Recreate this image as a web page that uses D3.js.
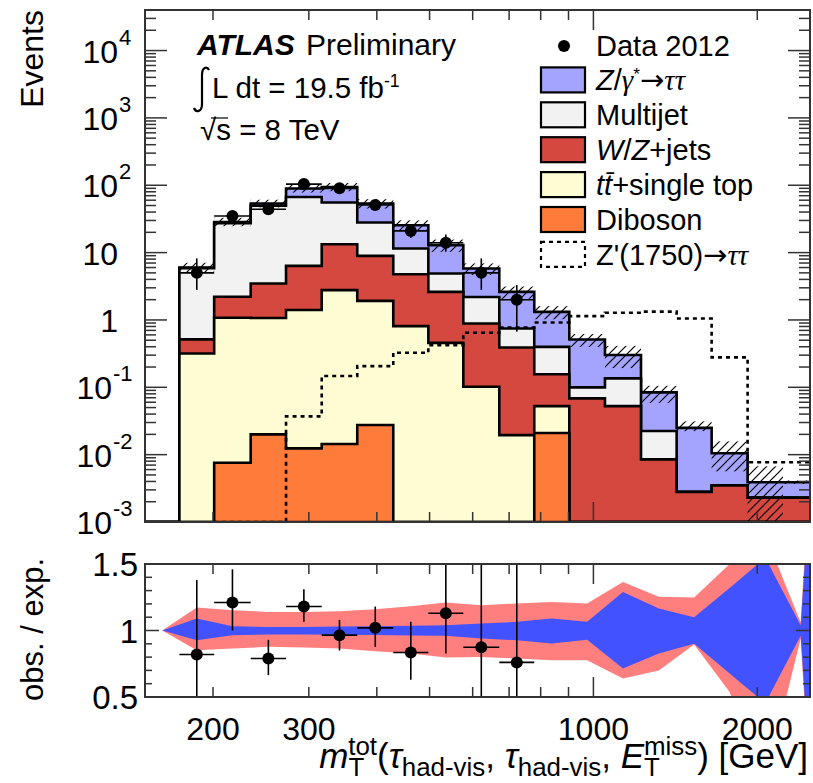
<!doctype html>
<html lang="en">
<head>
	<meta charset="UTF-8">
	<title>mT tot tau tau</title>
	<script src="https://d3js.org/d3.v7.min.js"></script>
	<style>
		body { margin: 0; background: #fff; }
		svg text { font-family: 'Liberation Sans', Arial, Helvetica, sans-serif; fill: #000; }
	</style>
</head>
<body>
	<div id="chart"></div>
	<script>
		/* ---------------------------------- Data ---------------------------------- */
		// bin edges in GeV (first bin is empty, the last one lies past the axis end)
		var bin_edges = [150, 173.5, 201, 234.6, 272.4, 316.8, 368.2, 428.8, 497.4, 576.7, 671.5,
			778.6, 903, 1050, 1223, 1422, 1649, 1920, 2230, 2590, 3010]

		// background yields per bin (events)
		var diboson = [0, 0, 0.0076, 0.020, 0.0124, 0.0144, 0.0275, 0, 0, 0, 0, 0.021, 0, 0, 0, 0, 0, 0, 0, 0]
		var ttbar = [0, 0.318, 1.07, 1.05, 1.39, 2.76, 1.89, 0.81, 0.457, 0.102, 0.0195, 0.0315, 0, 0, 0, 0, 0, 0, 0, 0]
		var wz_jets = [0, 0.196, 1.13, 2.41, 4.95, 10.5, 7.02, 3.97, 2.15, 0.785, 0.371, 0.104, 0.0684, 0.0526,
			0.0085, 0.0028, 0.0035, 0.0023, 0.0023, 0.0023]
		var multijet = [0, 5.36, 25.1, 46.1, 60.7, 42.1, 19.1, 6.7, 2.29, 1.31, 0.357, 0.242, 0.0313, 0.083,
			0.0139, 0, 0, 0, 0, 0]
		var ztautau = [0, 0.14, 1.2, 3.9, 22.3, 39.0, 25.5, 14.0, 8.0, 3.61, 1.86, 0.92, 0.414, 0.166,
			0.0616, 0.0222, 0.0070, 0.0016, 0.0016, 0.0016]

		// Z'(1750) signal, null = not drawn
		var zprime = [null, null, 0.0005, 0.0005, 0.037, 0.147, 0.206, 0.325, 0.423, 0.644, 0.774, 0.918,
			1.14, 1.28, 1.33, 1.05, 0.278, 0.0077, 0.0077, 0.0077]

		// data 2012, bins 1..10
		var data_bin = [1, 2, 3, 4, 5, 6, 7, 8, 9, 10]
		var data_val = [5, 35, 44, 104, 90, 51, 21, 14, 5, 2]
		var data_lo = [2.8, 29, 37.5, 94, 80.5, 44, 16.5, 10.3, 2.8, 0.67]
		var data_hi = [8.2, 41, 51, 114, 99.5, 58, 26, 18.5, 8.2, 3.3]

		// ratio obs/exp
		var ratio_val = [0.82, 1.21, 0.79, 1.18, 0.965, 1.02, 0.835, 1.13, 0.874, 0.76]
		var ratio_lo = [0.26, 1.0, 0.665, 1.065, 0.85, 0.877, 0.63, 0.827, 0.3, 0.3]
		var ratio_hi = [1.38, 1.46, 0.93, 1.31, 1.08, 1.18, 1.065, 1.6, 1.6, 1.6]

		// relative uncertainty bands (stat = blue, total = red)
		var band_tot_lo = [1, 0.852, 0.865, 0.877, 0.872, 0.865, 0.844, 0.827, 0.797, 0.80, 0.79, 0.777,
			0.777, 0.64, 0.70, 0.895, 0.538, -0.14, 0.94, -3.5]
		var band_tot_hi = [1, 1.173, 1.153, 1.14, 1.14, 1.145, 1.16, 1.183, 1.21, 1.19, 1.203, 1.215,
			1.203, 1.365, 1.253, 1.248, 1.5, 1.72, 1.06, 5.5]
		var band_stat_lo = [1, 0.927, 0.965, 0.97, 0.97, 0.968, 0.966, 0.962, 0.96, 0.94, 0.927, 0.902,
			0.93, 0.714, 0.827, 0.90, 0.677, 0.453, 0.96, -3]
		var band_stat_hi = [1, 1.09, 1.032, 1.027, 1.027, 1.03, 1.032, 1.035, 1.04, 1.053, 1.065, 1.09,
			1.065, 1.29, 1.165, 1.10, 1.32, 1.547, 1.04, 5]

		// ticks
		var x_ticks = [200, 300, 400, 500, 600, 700, 800, 900, 1000, 2000]
		var x_tick_labels = ['200', '300', '1000', '2000']
		var y_decades = [1e-3, 1e-2, 1e-1, 1, 10, 100, 1e3, 1e4]
		var y_tick_labels = [['10', '-3'], ['10', '-2'], ['10', '-1'], ['1', ''], ['10', ''], ['10', '2'], ['10', '3'], ['10', '4']]
		var r_ticks = [0.5, 1, 1.5]
		var r_tick_labels = ['0.5', '1', '1.5']

		/* ---------------------------------- Setup --------------------------------- */
		var keys = ['diboson', 'ttbar', 'wz_jets', 'multijet', 'ztautau']
		var colors = {
			ztautau: '#a4a4ff', multijet: '#f2f2f2', wz_jets: '#d4483f',
			ttbar: '#fefcd2', diboson: '#ff7b39'
		}
		var band_red = '#ff7f7f', band_blue = '#4352ff'

		var svg = d3.select('#chart').append('svg')
			.attr('width', 813)
			.attr('height', 783)

		var x = d3.scaleLog().domain([150, 2500]).range([145, 810])
		var y = d3.scaleLog().domain([1e-3, 4e4]).range([522, 10]).clamp(true)
		var yr = d3.scaleLinear().domain([0.5, 1.5]).range([697, 564])

		function yv(v) { return y(Math.max(v, 1e-5)) }
		function center(i) { return Math.sqrt(bin_edges[i] * bin_edges[i + 1]) }

		var defs = svg.append('defs')
		defs.append('clipPath').attr('id', 'clip_top').append('rect')
			.attr('x', 145).attr('y', 10).attr('width', 665).attr('height', 512)
		defs.append('clipPath').attr('id', 'clip_ratio').append('rect')
			.attr('x', 145).attr('y', 564).attr('width', 665).attr('height', 133)
		var pat = defs.append('pattern').attr('id', 'hatch')
			.attr('patternUnits', 'userSpaceOnUse').attr('width', 9).attr('height', 9)
		pat.append('path').attr('d', 'M0,9 L9,0 M-2,2 L2,-2 M7,11 L11,7')
			.attr('stroke', '#000').attr('stroke-width', 1.2)

		/* ------------------------------ Stacked hists ----------------------------- */
		var table = bin_edges.slice(0, -1).map(function(lo, i) {
			return {
				lo: lo, hi: bin_edges[i + 1], diboson: diboson[i], ttbar: ttbar[i],
				wz_jets: wz_jets[i], multijet: multijet[i], ztautau: ztautau[i]
			}
		})
		var stacked = d3.stack().keys(keys)(table)
		var top_g = svg.append('g').attr('clip-path', 'url(#clip_top)')
		var line = d3.line()

		function step_points(vals) {
			var pts = [[x(table[0].lo), y.range()[0]]]
			vals.forEach(function(v, i) {
				pts.push([x(table[i].lo), yv(v)])
				pts.push([x(table[i].hi), yv(v)])
			})
			pts.push([x(table[table.length - 1].hi), y.range()[0]])
			return pts
		}

		// ROOT style: every cumulative histogram drawn from the bottom, top one first
		stacked.slice().reverse().forEach(function(layer) {
			top_g.append('path')
				.attr('d', line(step_points(layer.map(function(d) { return d[1] }))) + 'Z')
				.attr('fill', colors[layer.key])
				.attr('stroke', '#000')
				.attr('stroke-width', 2.6)
				.attr('stroke-linejoin', 'miter')
		})

		// Z' signal, dotted
		var zp_pts = []
		zprime.forEach(function(v, i) {
			if (v === null) return
			if (zp_pts.length == 0) zp_pts.push([x(table[i].lo), y.range()[0]])
			zp_pts.push([x(table[i].lo), yv(v)])
			zp_pts.push([x(table[i].hi), yv(v)])
		})
		top_g.append('path')
			.attr('d', line(zp_pts))
			.attr('fill', 'none')
			.attr('stroke', '#000')
			.attr('stroke-width', 2.6)
			.attr('stroke-dasharray', '4,4')

		// hatched uncertainty on the total
		var totals = stacked[stacked.length - 1].map(function(d) { return d[1] })
		totals.forEach(function(t, i) {
			if (t <= 0) return
			var y1 = yv(t * band_tot_hi[i]), y0 = yv(t * band_tot_lo[i])
			top_g.append('rect')
				.attr('x', x(table[i].lo))
				.attr('width', x(table[i].hi) - x(table[i].lo))
				.attr('y', y1)
				.attr('height', Math.max(0, y0 - y1))
				.attr('fill', 'url(#hatch)')
		})

		// data points
		data_bin.forEach(function(b, i) {
			var cx = x(center(b))
			top_g.append('line')
				.attr('x1', x(table[b].lo)).attr('x2', x(table[b].hi))
				.attr('y1', yv(data_val[i])).attr('y2', yv(data_val[i]))
				.attr('stroke', '#000').attr('stroke-width', 1.6)
			top_g.append('line')
				.attr('x1', cx).attr('x2', cx)
				.attr('y1', yv(data_lo[i])).attr('y2', yv(data_hi[i]))
				.attr('stroke', '#000').attr('stroke-width', 1.6)
			top_g.append('circle')
				.attr('cx', cx).attr('cy', yv(data_val[i])).attr('r', 6)
				.attr('fill', '#000')
		})

		/* ------------------------------- Ratio panel ------------------------------ */
		var r_g = svg.append('g').attr('clip-path', 'url(#clip_ratio)')
		var idx = d3.range(table.length)
		r_g.append('path')
			.attr('d', d3.area()
				.x(function(i) { return x(center(i)) })
				.y0(function(i) { return yr(band_tot_lo[i]) })
				.y1(function(i) { return yr(band_tot_hi[i]) })(idx))
			.attr('fill', band_red)
		r_g.append('path')
			.attr('d', d3.area()
				.x(function(i) { return x(center(i)) })
				.y0(function(i) { return yr(band_stat_lo[i]) })
				.y1(function(i) { return yr(band_stat_hi[i]) })(idx))
			.attr('fill', band_blue)

		data_bin.forEach(function(b, i) {
			var cx = x(center(b))
			r_g.append('line')
				.attr('x1', x(table[b].lo)).attr('x2', x(table[b].hi))
				.attr('y1', yr(ratio_val[i])).attr('y2', yr(ratio_val[i]))
				.attr('stroke', '#000').attr('stroke-width', 1.6)
			r_g.append('line')
				.attr('x1', cx).attr('x2', cx)
				.attr('y1', yr(ratio_lo[i])).attr('y2', yr(ratio_hi[i]))
				.attr('stroke', '#000').attr('stroke-width', 1.6)
			r_g.append('circle')
				.attr('cx', cx).attr('cy', yr(ratio_val[i])).attr('r', 6)
				.attr('fill', '#000')
		})

		/* ------------------------------ Frames, ticks ----------------------------- */
		var frame_col = '#333'
		function tick(x1, y1, x2, y2) {
			svg.append('line')
				.attr('x1', x1).attr('y1', y1).attr('x2', x2).attr('y2', y2)
				.attr('stroke', frame_col).attr('stroke-width', 1.5)
		}

		// x ticks on both panels, top and bottom
		x_ticks.forEach(function(t) {
			var len = (t == 1000) ? 20 : 10
			tick(x(t), 10, x(t), 10 + len)
			tick(x(t), 522, x(t), 522 - len)
			tick(x(t), 564, x(t), 564 + len)
			tick(x(t), 697, x(t), 697 - len)
		})

		// upper y ticks
		y_decades.forEach(function(d) {
			tick(145, y(d), 145 + 22, y(d))
			tick(810, y(d), 810 - 22, y(d))
			for (var m = 2; m <= 9; m++) {
				var v = m * d
				if (v > y.domain()[1]) break
				tick(145, y(v), 145 + 11, y(v))
				tick(810, y(v), 810 - 11, y(v))
			}
		})

		// ratio y ticks
		d3.range(0.6, 1.45, 0.1).forEach(function(v) {
			var len = Math.abs(v - 1) < 0.01 ? 14 : 7
			tick(145, yr(v), 145 + len, yr(v))
			tick(810, yr(v), 810 - len, yr(v))
		})

		svg.append('rect').attr('x', 145).attr('y', 10).attr('width', 665).attr('height', 512)
			.attr('fill', 'none').attr('stroke', frame_col).attr('stroke-width', 2)
		svg.append('rect').attr('x', 145).attr('y', 564).attr('width', 665).attr('height', 133)
			.attr('fill', 'none').attr('stroke', frame_col).attr('stroke-width', 2)

		/* --------------------------------- Labels --------------------------------- */
		y_decades.forEach(function(d, i) {
			var base = y_tick_labels[i][0], ex = y_tick_labels[i][1]
			var xb = ex.charAt(0) == '-' ? 112 : 118
			svg.append('text')
				.attr('x', xb).attr('y', y(d) + 12)
				.attr('text-anchor', 'end')
				.style('font-size', '32px')
				.text(base)
			if (ex != '') {
				svg.append('text')
					.attr('x', xb + 1).attr('y', y(d) - 6)
					.style('font-size', '22px')
					.text(ex)
			}
		})

		r_ticks.forEach(function(t, i) {
			svg.append('text')
				.attr('x', 138).attr('y', yr(t) + 12)
				.attr('text-anchor', 'end')
				.style('font-size', '33px')
				.text(r_tick_labels[i])
		})

		x_tick_labels.forEach(function(l) {
			svg.append('text')
				.attr('x', x(+l)).attr('y', 740)
				.attr('text-anchor', 'middle')
				.style('font-size', '32px')
				.text(l)
		})

		svg.append('text')
			.attr('transform', 'translate(43,10) rotate(-90)')
			.attr('text-anchor', 'end')
			.style('font-size', '32px')
			.text('Events')
		svg.append('text')
			.attr('transform', 'translate(43,558) rotate(-90)')
			.attr('text-anchor', 'end')
			.style('font-size', '31px')
			.text('obs. / exp.')

		// text with sub/superscripts
		var serif = "'Liberation Serif', 'DejaVu Serif', serif"
		function rich_text(sel, segs, size) {
			var shift = 0
			segs.forEach(function(s) {
				var target = s.sup ? -0.36 * size : (s.sub ? 0.23 * size : 0)
				var ts = sel.append('tspan').attr('dy', target - shift).text(s.t)
				if (s.sup || s.sub) ts.style('font-size', (s.small || 0.74) * size + 'px')
				if (s.it) ts.style('font-style', 'italic')
				if (s.serif) ts.style('font-family', serif).style('font-style', 'italic')
				if (s.arrow) ts.style('font-family', "'DejaVu Sans', sans-serif")
				if (s.dx) ts.attr('dx', s.dx)
				shift = target
			})
		}

		var xt = svg.append('text')
			.attr('x', 808).attr('y', 768)
			.attr('text-anchor', 'end')
			.style('font-size', '35px')
		rich_text(xt, [
			{t: 'm', it: 1}, {t: 'T', sub: 1}, {t: 'tot', sup: 1, dx: -16},
			{t: '('}, {t: 'τ', it: 1}, {t: 'had-vis', sub: 1}, {t: ', '},
			{t: 'τ', it: 1}, {t: 'had-vis', sub: 1}, {t: ', '},
			{t: 'E', it: 1}, {t: 'T', sub: 1}, {t: 'miss', sup: 1, dx: -16},
			{t: ') [GeV]'}
		], 35)

		// ATLAS label
		svg.append('text').attr('x', 197).attr('y', 55)
			.style('font-size', '30px').style('font-weight', 'bold').style('font-style', 'italic')
			.text('ATLAS')
		svg.append('text').attr('x', 306).attr('y', 55)
			.style('font-size', '30px')
			.text('Preliminary')
		// integral sign
		svg.append('path')
			.attr('d', 'M194,108 C196,113 202,112 202,104 L202,75 C202,67 207,66 209,70')
			.attr('fill', 'none').attr('stroke', '#000').attr('stroke-width', 2.2)
		var lumi = svg.append('text').attr('x', 212).attr('y', 98).style('font-size', '29.5px')
		rich_text(lumi, [{t: 'L dt = 19.5 fb'}, {t: '-1', sup: 1, small: 0.6}], 29.5)
		svg.append('text').attr('x', 200).attr('y', 140)
			.style('font-size', '29.5px')
			.text('√s = 8 TeV')
		svg.append('line').attr('x1', 211).attr('x2', 228).attr('y1', 118).attr('y2', 118)
			.attr('stroke', '#000').attr('stroke-width', 1.2)

		/* --------------------------------- Legend --------------------------------- */
		var legend_keys = ['data', 'ztautau', 'multijet', 'wz_jets', 'ttbar', 'diboson', 'zprime']
		var legend_text = [
			[{t: 'Data 2012'}],
			[{t: 'Z', it: 1}, {t: '/'}, {t: 'γ', serif: 1}, {t: '*', sup: 1, small: 0.6}, {t: '→', arrow: 1}, {t: 'ττ', serif: 1}],
			[{t: 'Multijet'}],
			[{t: 'W', it: 1}, {t: '/'}, {t: 'Z', it: 1}, {t: '+jets'}],
			[{t: 't', it: 1}, {t: 't̄', it: 1}, {t: '+single top'}],
			[{t: 'Diboson'}],
			[{t: 'Z\'(1750)'}, {t: '→', arrow: 1}, {t: 'ττ', serif: 1}]
		]
		legend_keys.forEach(function(k, i) {
			var cy = 45 + i * 34.9
			if (k == 'data') {
				svg.append('circle').attr('cx', 564).attr('cy', cy + 1).attr('r', 6).attr('fill', '#000')
			} else {
				svg.append('rect')
					.attr('x', 541).attr('y', cy - 12.5).attr('width', 44).attr('height', 25)
					.attr('fill', k == 'zprime' ? 'none' : colors[k])
					.attr('stroke', '#000').attr('stroke-width', 2.2)
					.attr('stroke-dasharray', k == 'zprime' ? '4,4' : null)
			}
			var t = svg.append('text').attr('x', 596).attr('y', cy + 10.5).style('font-size', '29px')
			rich_text(t, legend_text[i], 29)
		})
	</script>
</body>
</html>
